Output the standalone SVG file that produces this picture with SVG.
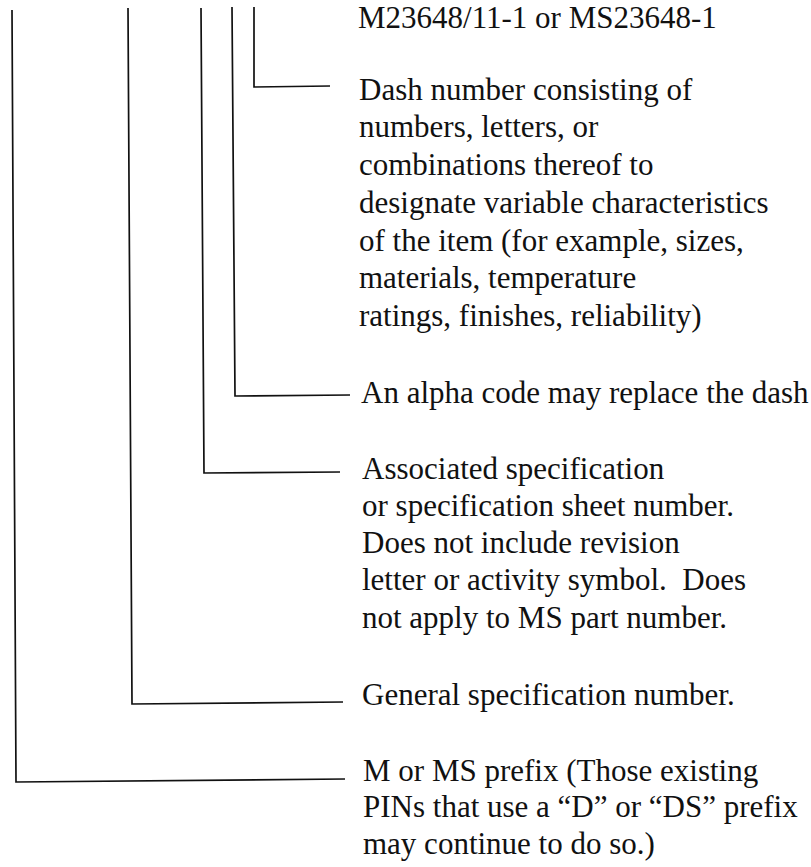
<svg xmlns="http://www.w3.org/2000/svg" width="811" height="867" viewBox="0 0 811 867">
<style>
.t{font-family:"Liberation Serif","Times New Roman",serif;font-size:31px;fill:#111}
.l{fill:none;stroke:#111;stroke-width:1.7;stroke-linejoin:miter}
</style>
<rect width="811" height="867" fill="#fff"/>
<g id="connectors">
<polyline class="l" points="12,10 16,782 345,779"/>
<polyline class="l" points="128,8 132,704 343,702"/>
<polyline class="l" points="201,8 204,473 340,472"/>
<polyline class="l" points="232,7 235,396 350,395"/>
<polyline class="l" points="254,7 254,87 330,86"/>
</g>
<g id="example"><text class="t" x="358" y="28">M23648/11-1 or MS23648-1</text></g>
<g id="dash-number"><text class="t" x="359" y="100">Dash number consisting of<tspan x="359" y="137">numbers, letters, or</tspan><tspan x="359" y="175">combinations thereof to</tspan><tspan x="359" y="213">designate variable characteristics</tspan><tspan x="359" y="251">of the item (for example, sizes,</tspan><tspan x="359" y="288">materials, temperature</tspan><tspan x="359" y="326">ratings, finishes, reliability)</tspan></text></g>
<g id="alpha-code"><text class="t" x="361" y="403">An alpha code may replace the dash</text></g>
<g id="associated-spec"><text class="t" x="362" y="479">Associated specification<tspan x="362" y="516">or specification sheet number.</tspan><tspan x="362" y="553">Does not include revision</tspan><tspan x="362" y="590">letter or activity symbol.&#160; Does</tspan><tspan x="362" y="628">not apply to MS part number.</tspan></text></g>
<g id="general-spec"><text class="t" x="362" y="705">General specification number.</text></g>
<g id="prefix"><text class="t" x="363" y="781">M or MS prefix (Those existing<tspan x="363" y="817">PINs that use a “D” or “DS” prefix</tspan><tspan x="363" y="854">may continue to do so.)</tspan></text></g>
</svg>
